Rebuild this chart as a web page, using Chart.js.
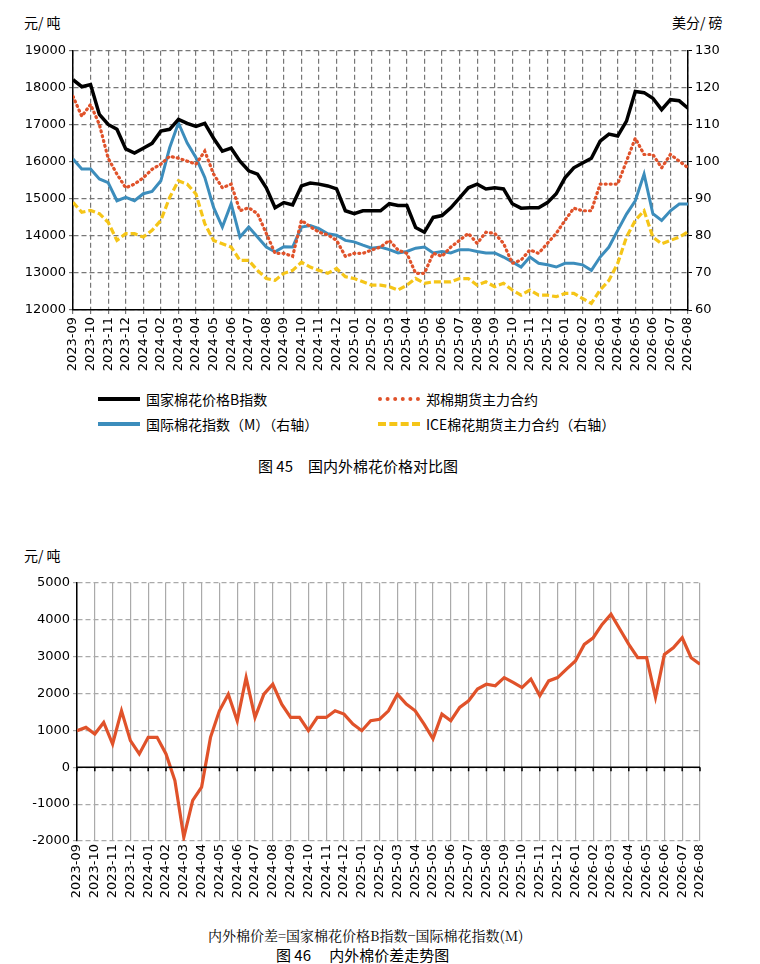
<!DOCTYPE html>
<html>
<head>
<meta charset="utf-8">
<script src="https://cdn.jsdelivr.net/npm/chart.js@4"></script>
<style>
  body { margin: 0; background: #fff; font-family: "Noto Sans CJK SC", "DejaVu Sans", sans-serif; }
  #wrap { position: relative; width: 760px; height: 964px; }
  .t { position: absolute; font-size: 14px; color: #000; white-space: nowrap; }
  canvas { position: absolute; left: 0; }
  .lg { position: absolute; font-size: 14px; display: flex; align-items: center; white-space: nowrap; }
  .lg span.s { display: inline-block; width: 42px; margin-right: 6px; }
</style>
</head>
<body>
<div id="wrap">
  <div class="t" style="left:24px;top:12px;">元/ 吨</div>
  <div class="t" style="left:672px;top:12px;">美分/ 磅</div>
  <canvas id="c1" style="top:40px;"></canvas>
  <div class="lg" style="left:98px;top:389px;"><span class="s" style="border-top:4px solid #000;"></span>国家棉花价格B指数</div>
  <div class="lg" style="left:378px;top:389px;"><span class="s" style="border-top:4px dotted #e0522a;"></span>郑棉期货主力合约</div>
  <div class="lg" style="left:98px;top:414px;"><span class="s" style="border-top:4px solid #3c8dbc;"></span>国际棉花指数（M）（右轴）</div>
  <div class="lg" style="left:378px;top:414px;"><span class="s" style="border-top:4px dashed #f5c518;"></span>ICE棉花期货主力合约（右轴）</div>
  <div class="t" style="left:258px;top:455px;font-size:15px;">图 45　国内外棉花价格对比图</div>

  <div class="t" style="left:24px;top:545px;">元/ 吨</div>
  <canvas id="c2" style="top:572px;"></canvas>
  <div class="t" style="left:208px;top:925px;font-family:'Noto Serif CJK SC','Liberation Serif',serif;font-size:14px;">内外棉价差=国家棉花价格B指数−国际棉花指数(M)</div>
  <div class="t" style="left:276px;top:944px;font-size:15px;">图 46　 内外棉价差走势图</div>
</div>
<script>
const months = ['2023-09','2023-10','2023-11','2023-12','2024-01','2024-02','2024-03','2024-04','2024-05','2024-06','2024-07','2024-08','2024-09','2024-10','2024-11','2024-12','2025-01','2025-02','2025-03','2025-04','2025-05','2025-06','2025-07','2025-08','2025-09','2025-10','2025-11','2025-12','2026-01','2026-02','2026-03','2026-04','2026-05','2026-06','2026-07','2026-08'];

// half-month samples, starting 2023-09
const chinaB = [18220,18030,18090,17280,17010,16880,16350,16240,16370,16500,16830,16880,17150,17040,16960,17040,16640,16290,16370,16020,15760,15670,15300,14760,14900,14840,15350,15430,15400,15350,15270,14680,14600,14680,14680,14680,14870,14820,14820,14230,14100,14500,14550,14760,15030,15300,15400,15270,15300,15270,14870,14750,14760,14760,14900,15140,15570,15840,15970,16100,16560,16750,16700,17100,17900,17870,17720,17410,17680,17650,17450];
const zce = [17770,17230,17550,17010,16100,15670,15300,15400,15570,15800,15940,16150,16100,16020,15940,16290,15670,15300,15400,14680,14760,14600,14070,13530,13530,13450,14420,14250,14100,14030,13880,13450,13530,13530,13620,13700,13880,13620,13530,12990,12990,13530,13450,13700,13880,14070,13800,14100,14070,13800,13260,13350,13620,13530,13800,14070,14420,14750,14680,14680,15400,15400,15400,16020,16640,16200,16200,15840,16200,16020,15840];
const indexM = [100.8,98.1,98.1,95.4,94.4,89.5,90.4,89.5,91.4,92.0,94.9,103.8,110.5,105.1,101.1,95.8,87.7,82.4,88.7,79.7,82.4,79.7,77.0,75.7,77.1,77.0,82.4,82.8,82.0,80.6,80.2,78.8,78.4,77.5,76.7,77.0,76.3,75.4,75.8,76.7,77.0,75.4,75.8,75.4,76.3,76.3,75.8,75.4,75.4,74.3,73.0,71.6,74.3,72.6,72.2,71.6,72.6,72.6,72.2,70.7,74.3,77.0,81.5,85.9,89.5,96.7,86.0,84.2,86.8,88.6,88.6];
const ice = [89.1,86.4,86.9,86.0,83.7,78.8,80.6,80.6,79.7,81.5,84.2,90.4,94.9,94.0,91.3,83.3,78.8,77.9,77.0,73.4,73.4,70.7,68.5,68.0,69.9,70.7,72.9,71.6,70.7,69.9,71.2,69.0,68.5,67.6,66.7,66.7,66.3,65.4,66.7,68.5,67.2,67.6,67.6,67.6,68.5,68.5,66.7,67.6,66.3,67.2,65.4,64.0,65.4,64.0,64.0,63.6,64.5,64.5,63.1,61.8,65.4,68.0,72.6,79.7,84.2,86.8,79.7,77.9,78.8,79.7,81.1];
const spread = [990,1080,900,1215,630,1530,720,360,810,810,360,-360,-1900,-900,-540,810,1530,1980,1260,2430,1350,1980,2250,1710,1350,1350,990,1350,1350,1530,1440,1170,990,1260,1300,1530,1980,1710,1530,1170,770,1440,1260,1620,1800,2120,2250,2210,2430,2300,2160,2390,1940,2340,2430,2660,2880,3330,3510,3870,4150,3740,3330,2970,2970,1900,3060,3240,3510,2970,2790];

const pts = arr => arr.map((v, i) => ({ x: i / 2, y: v }));
const tickFont = { family: 'DejaVu Sans', size: 13 };
const plain = v => String(v);

function xAxis(gridColor, h) {
  return {
    type: 'linear', min: 0, max: 35,
    afterFit: s => { s.height = h; },
    ticks: { stepSize: 1, autoSkip: false, maxRotation: 90, minRotation: 90, color: '#000', font: tickFont,
             callback: v => months[v] || '' },
    grid: { color: gridColor, lineWidth: 1.2, drawTicks: true, tickLength: 4 },
    border: { color: '#000', width: 1.5, dash: [5, 3] }
  };
}

const c1 = document.getElementById('c1');
c1.width = 760; c1.height = 342;
c1.style.width = '760px'; c1.style.height = '342px';
new Chart(c1, {
  type: 'line',
  data: { datasets: [
    { label: '国家棉花价格B指数', data: pts(chinaB), borderColor: '#000', borderWidth: 3.5, yAxisID: 'y' },
    { label: '郑棉期货主力合约', data: pts(zce), borderColor: '#e0522a', borderWidth: 3.2, borderDash: [1, 4], borderCapStyle: 'round', yAxisID: 'y' },
    { label: '国际棉花指数（M）（右轴）', data: pts(indexM), borderColor: '#3c8dbc', borderWidth: 3, yAxisID: 'y1' },
    { label: 'ICE棉花期货主力合约（右轴）', data: pts(ice), borderColor: '#f5c518', borderWidth: 3.2, borderDash: [7, 3], yAxisID: 'y1' }
  ].map(d => Object.assign(d, { pointRadius: 0, tension: 0, fill: false })) },
  options: {
    responsive: false, animation: false,
    layout: { padding: { top: 9 } },
    plugins: { legend: { display: false }, tooltip: { enabled: false } },
    scales: {
      x: xAxis('#777', 72),
      y: { position: 'left', min: 12000, max: 19000, afterFit: s => { s.width = 73; },
           ticks: { stepSize: 1000, color: '#000', font: tickFont, callback: plain },
           grid: { color: '#777', lineWidth: 1.2, tickLength: 4 }, border: { color: '#000', width: 1.5, dash: [5, 3] } },
      y1: { position: 'right', min: 60, max: 130, afterFit: s => { s.width = 72; },
            ticks: { stepSize: 10, color: '#000', font: tickFont, callback: plain },
            grid: { drawOnChartArea: false, tickLength: 4, color: '#000' }, border: { color: '#000', width: 1.5 } }
    }
  }
});

const zeroLine = {
  id: 'zeroLine',
  afterDatasetsDraw(chart) {
    const { ctx, scales: { x, y } } = chart;
    const y0 = y.getPixelForValue(0);
    ctx.save();
    ctx.strokeStyle = '#000'; ctx.lineWidth = 1.5;
    ctx.beginPath(); ctx.moveTo(x.left, y0); ctx.lineTo(x.right, y0);
    for (let m = 0; m <= 35; m++) { const px = x.getPixelForValue(m); ctx.moveTo(px, y0); ctx.lineTo(px, y0 + 4); }
    ctx.stroke(); ctx.restore();
  }
};

const c2 = document.getElementById('c2');
c2.width = 760; c2.height = 344;
c2.style.width = '760px'; c2.style.height = '344px';
new Chart(c2, {
  type: 'line',
  data: { datasets: [
    { label: '内外棉价差', data: pts(spread), borderColor: '#e0522a', borderWidth: 3.2, pointRadius: 0, tension: 0, fill: false }
  ] },
  options: {
    responsive: false, animation: false,
    layout: { padding: { top: 10, right: 60 } },
    plugins: { legend: { display: false }, tooltip: { enabled: false } },
    scales: {
      x: Object.assign(xAxis('#aaa', 75), { grid: { color: '#aaa', lineWidth: 1.2, drawTicks: false }, border: { display: false } }),
      y: { min: -2000, max: 5000, afterFit: s => { s.width = 77; },
           ticks: { stepSize: 1000, color: '#000', font: tickFont, callback: plain },
           grid: { color: '#aaa', lineWidth: 1.2, tickLength: 4 }, border: { color: '#000', width: 1.5, dash: [5, 3] } }
    }
  },
  plugins: [zeroLine]
});
</script>
</body>
</html>
